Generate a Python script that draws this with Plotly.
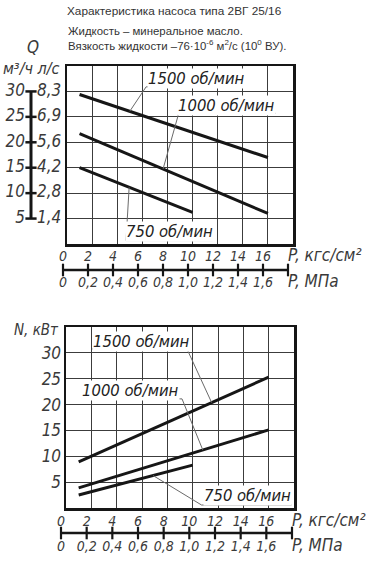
import numpy as np
import plotly.graph_objects as go

W, H = 369, 561

# ---------------- data ----------------
p_kgf_ticks = [0, 2, 4, 6, 8, 10, 12, 14, 16]
p_kgf_labels = ["0", "2", "4", "6", "8", "10", "12", "14", "16"]
p_mpa_labels = ["0", "0,2", "0,4", "0,6", "0,8", "1,0", "1,2", "1,4", "1,6"]
p_scale_end = 18
q_m3h_ticks = [5, 10, 15, 20, 25, 30]
q_m3h_labels = ["5", "10", "15", "20", "25", "30"]
q_ls_labels = ["1,4", "2,8", "4,2", "5,6", "6,9", "8,3"]
n_ticks = [5, 10, 15, 20, 25, 30]
n_labels = ["5", "10", "15", "20", "25", "30"]

p_1500 = [1, 16]
q_1500 = [29.4, 17.0]
n_1500 = [8.9, 25.3]
p_1000 = [1, 16]
q_1000 = [21.7, 6.0]
n_1000 = [3.9, 15.1]
p_750 = [1, 10]
q_750 = [15.0, 6.2]
n_750 = [2.5, 8.3]

speed_labels = ["1500 об/мин", "1000 об/мин", "750 об/мин"]

# ---------------- style ----------------
TFONT = "Liberation Sans Narrow, DejaVu Sans Condensed, Arial Narrow, sans-serif"
HFONT = "Liberation Sans, Arial, sans-serif"
INK = "#161616"
GRID = "#3c3c3c"
LEAD = "#6a6a6a"
TXT = "#3a3a3a"


def fx(px):
    return px / W


def fy(py):
    return 1 - py / H


fig = go.Figure()

# ---------- curves ----------
for p, q in [(p_1500, q_1500), (p_1000, q_1000), (p_750, q_750)]:
    fig.add_trace(go.Scatter(x=p, y=q, mode="lines", xaxis="x", yaxis="y",
                             line=dict(color=INK, width=3), hoverinfo="skip", showlegend=False))
for p, n in [(p_1500, n_1500), (p_1000, n_1000), (p_750, n_750)]:
    fig.add_trace(go.Scatter(x=p, y=n, mode="lines", xaxis="x2", yaxis="y2",
                             line=dict(color=INK, width=3), hoverinfo="skip", showlegend=False))


def leader(xa, ya, pts):
    xs = [a for a, b in pts]
    ys = [b for a, b in pts]
    fig.add_trace(go.Scatter(x=xs, y=ys, mode="lines", xaxis=xa, yaxis=ya,
                             line=dict(color=LEAD, width=1), hoverinfo="skip", showlegend=False))


# top chart leaders (curve point -> underline)
leader("x", "y", [(5.0, np.interp(5.0, p_1500, q_1500)), (6.3, 30.9), (13.95, 30.9)])
leader("x", "y", [(7.65, np.interp(7.65, p_1000, q_1000)), (8.9, 25.7), (16.6, 25.7)])
leader("x", "y", [(4.95, np.interp(4.95, p_750, q_750)), (4.7, 0.67), (11.6, 0.67)])
# bottom chart leaders
leader("x2", "y2", [(2.05, 30.75), (9.55, 30.75), (11.5, np.interp(11.5, p_1500, n_1500))])
leader("x2", "y2", [(1.26, 21.1), (9.16, 21.1), (10.8, np.interp(10.8, p_1000, n_1000))])
leader("x2", "y2", [(17.8, 0.58), (10.7, 0.58), (6.87, np.interp(6.87, p_750, n_750))])

annotations = []
lab_font = dict(family=TFONT, size=16.5, color="#222", style="italic")
for (x, y, xr, yr, t) in [
    (10.3, 32.6, "x", "y", speed_labels[0]),
    (12.7, 27.2, "x", "y", speed_labels[1]),
    (8.2, 2.44, "x", "y", speed_labels[2]),
    (5.96, 32.2, "x2", "y2", speed_labels[0]),
    (5.13, 22.8, "x2", "y2", speed_labels[1]),
    (14.3, 2.5, "x2", "y2", speed_labels[2]),
]:
    annotations.append(dict(x=x, y=y, xref=xr, yref=yr, text=t, showarrow=False,
                            font=lab_font, bgcolor="white", borderpad=0))

# ---------- Q scale (left of top chart) ----------
fig.add_trace(go.Scatter(x=[0, 0], y=[min(q_m3h_ticks), max(q_m3h_ticks)], mode="lines",
                         xaxis="x3", yaxis="y3", line=dict(color=INK, width=3), cliponaxis=False,
                         hoverinfo="skip", showlegend=False))
fig.add_trace(go.Scatter(x=[0] * len(q_m3h_ticks), y=q_m3h_ticks, mode="markers",
                         xaxis="x3", yaxis="y3", cliponaxis=False,
                         marker=dict(symbol="line-ew", size=8, line=dict(color=INK, width=2.5)),
                         hoverinfo="skip", showlegend=False))
scale_font = dict(family=TFONT, size=17, color=TXT, style="italic")
fig.add_trace(go.Scatter(x=[-6] * len(q_m3h_ticks), y=q_m3h_ticks, mode="text", cliponaxis=False,
                         text=q_m3h_labels, textposition="middle left", textfont=scale_font,
                         xaxis="x3", yaxis="y3", hoverinfo="skip", showlegend=False))
fig.add_trace(go.Scatter(x=[6] * len(q_m3h_ticks), y=q_m3h_ticks, mode="text", cliponaxis=False,
                         text=q_ls_labels, textposition="middle right", textfont=scale_font,
                         xaxis="x3", yaxis="y3", hoverinfo="skip", showlegend=False))

# ---------- P scales (below each chart) ----------
pfont = dict(family=TFONT, size=14, color=TXT, style="italic")
pname_font = dict(family=TFONT, size=17, color=TXT, style="italic")
all_ticks = p_kgf_ticks + [p_scale_end]
for xa, ya, up, dn in [("x4", "y4", 13, -13), ("x5", "y5", 11, -14)]:
    fig.add_trace(go.Scatter(x=[0, p_scale_end], y=[0, 0], mode="lines", xaxis=xa, yaxis=ya,
                             cliponaxis=False,
                             line=dict(color=INK, width=2.5), hoverinfo="skip", showlegend=False))
    fig.add_trace(go.Scatter(x=all_ticks, y=[0] * len(all_ticks), mode="markers", xaxis=xa, yaxis=ya,
                             cliponaxis=False,
                             marker=dict(symbol="line-ns", size=9, line=dict(color=INK, width=2.2)),
                             hoverinfo="skip", showlegend=False))
    fig.add_trace(go.Scatter(x=p_kgf_ticks, y=[up] * len(p_kgf_ticks), mode="text", text=p_kgf_labels,
                             cliponaxis=False,
                             textposition="middle center", textfont=pfont, xaxis=xa, yaxis=ya,
                             hoverinfo="skip", showlegend=False))
    fig.add_trace(go.Scatter(x=p_kgf_ticks, y=[dn] * len(p_kgf_ticks), mode="text", text=p_mpa_labels,
                             cliponaxis=False,
                             textposition="middle center", textfont=pfont, xaxis=xa, yaxis=ya,
                             hoverinfo="skip", showlegend=False))
    fig.add_trace(go.Scatter(x=[p_scale_end, p_scale_end], y=[up, dn], mode="text",
                             cliponaxis=False,
                             text=["P, кгс/см²", "P, МПа"], textposition="middle right",
                             textfont=pname_font, xaxis=xa, yaxis=ya,
                             hoverinfo="skip", showlegend=False))

# ---------- header texts ----------
annotations += [
    dict(x=fx(65), y=fy(11), xref="paper", yref="paper", xanchor="left", yanchor="middle",
         text="Характеристика насоса типа 2ВГ 25/16", showarrow=False,
         font=dict(family=HFONT, size=11.8, color="#333")),
    dict(x=fx(66), y=fy(31), xref="paper", yref="paper", xanchor="left", yanchor="middle",
         text="Жидкость – минеральное масло.", showarrow=False,
         font=dict(family=HFONT, size=11.4, color="#333")),
    dict(x=fx(66), y=fy(45), xref="paper", yref="paper", xanchor="left", yanchor="middle",
         text="Вязкость жидкости –76·10<sup>-6</sup> м<sup>2</sup>/с (10<sup>0</sup> ВУ).",
         showarrow=False, font=dict(family=HFONT, size=11.4, color="#333")),
    dict(x=fx(33), y=fy(47), xref="paper", yref="paper", xanchor="center", yanchor="middle",
         text="Q", showarrow=False, font=dict(family=TFONT, size=17, color=TXT, style="italic")),
    dict(x=fx(31), y=fy(68), xref="paper", yref="paper", xanchor="center", yanchor="middle",
         text="м³/ч л/с", showarrow=False, font=dict(family=TFONT, size=16, color=TXT, style="italic")),
    dict(x=fx(61), y=fy(330), xref="paper", yref="paper", xanchor="right", yanchor="middle",
         text="N, кВт", showarrow=False, font=dict(family=TFONT, size=15, color=TXT, style="italic")),
]

frame = dict(showline=True, mirror=True, linewidth=2.5, linecolor=INK, showgrid=True,
             gridcolor=GRID, gridwidth=1, zeroline=False, ticks="", fixedrange=True)
hidden = dict(visible=False, fixedrange=True)

fig.update_layout(
    width=W, height=H, autosize=False,
    margin=dict(l=0, r=0, t=0, b=0),
    paper_bgcolor="white", plot_bgcolor="white",
    showlegend=False,
    xaxis=dict(domain=[fx(67), fx(293)], range=[0, 18], tickvals=list(range(0, 19, 2)),
               showticklabels=False, anchor="y", **frame),
    yaxis=dict(domain=[fy(244), fy(66)], range=[0, 35], tickvals=list(range(0, 36, 5)),
               showticklabels=False, anchor="x", **frame),
    xaxis2=dict(domain=[fx(66), fx(294)], range=[0, 18], tickvals=list(range(0, 19, 2)),
                showticklabels=False, anchor="y2", **frame),
    yaxis2=dict(domain=[fy(508), fy(327)], range=[0, 35], tickvals=n_ticks, ticktext=n_labels,
                showticklabels=True, anchor="x2", ticklabelstandoff=-1,
                tickfont=dict(family=TFONT, size=17, color=TXT, style="italic"), **frame),
    xaxis3=dict(domain=[0, fx(62)], range=[-31, 31], anchor="y3", **hidden),
    yaxis3=dict(domain=[fy(244), fy(66)], range=[0, 35], anchor="x3", **hidden),
    xaxis4=dict(domain=[fx(63), fx(288)], range=[0, 18], anchor="y4", **hidden),
    yaxis4=dict(domain=[fy(290), fy(250)], range=[-20, 20], anchor="x4", **hidden),
    xaxis5=dict(domain=[fx(61), fx(292)], range=[0, 18], anchor="y5", **hidden),
    yaxis5=dict(domain=[fy(553), fy(513)], range=[-20, 20], anchor="x5", **hidden),
    annotations=annotations,
)

fig.write_html("out.html", config=dict(displayModeBar=False, staticPlot=True),
               post_script="document.body.style.margin='0';document.body.style.overflow='hidden';")
